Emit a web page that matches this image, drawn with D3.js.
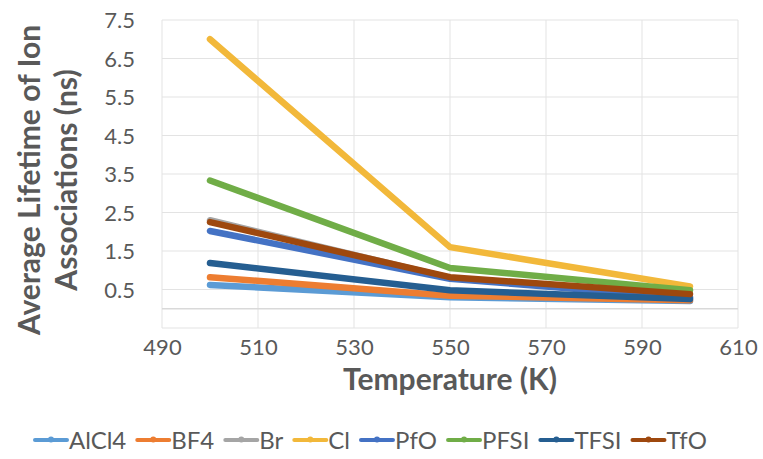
<!DOCTYPE html>
<html>
<head>
<meta charset="utf-8">
<script src="https://cdn.jsdelivr.net/npm/d3@7"></script>
<style>
body { margin: 0; background: #fff; }
text { font-family: Lato, "Open Sans", sans-serif; fill: #595959; }
</style>
</head>
<body>
<div id="chart"></div>
<script>
var width = 763, height = 459,
margin = {top: 20, right: 25, bottom: 131, left: 162}

// data
var temps = [500, 550, 600]
var names = ["AlCl4", "BF4", "Br", "Cl", "PfO", "PFSI", "TFSI", "TfO"]
var colors = ["#5B9BD5", "#ED7D31", "#A5A5A5", "#F2B83A", "#4472C4", "#70AD47", "#255E91", "#9E480E"]
var AlCl4 = [0.62, 0.30, 0.20]
var BF4 = [0.82, 0.34, 0.22]
var Br = [2.30, 0.80, 0.30]
var Cl = [7.00, 1.60, 0.58]
var PfO = [2.02, 0.78, 0.28]
var PFSI = [3.33, 1.06, 0.48]
var TFSI = [1.19, 0.48, 0.25]
var TfO = [2.25, 0.82, 0.38]
var yTicks = [0.5, 1.5, 2.5, 3.5, 4.5, 5.5, 6.5, 7.5]
var xTicks = [490, 510, 530, 550, 570, 590, 610]

var seriesVals = [AlCl4, BF4, Br, Cl, PfO, PFSI, TFSI, TfO]
var series = names.map(function(n, i) { return {name: n, color: colors[i], values: seriesVals[i]} })

var svg = d3.select("#chart").append("svg")
	.attr("width", width)
	.attr("height", height)

var x = d3.scaleLinear().domain([490, 610]).range([margin.left, width - margin.right])
var y = d3.scaleLinear().domain([-0.5, 7.5]).range([height - margin.bottom, margin.top])

// gridlines
svg.append("g").selectAll("line")
	.data(xTicks)
	.enter().append("line")
	.attr("x1", function(d) { return x(d) }).attr("x2", function(d) { return x(d) })
	.attr("y1", y(7.5)).attr("y2", y(-0.5))
	.attr("stroke", "#e3e3e3").attr("stroke-width", 1)

svg.append("g").selectAll("line")
	.data(yTicks.concat([-0.5]))
	.enter().append("line")
	.attr("x1", x(490)).attr("x2", x(610))
	.attr("y1", function(d) { return y(d) }).attr("y2", function(d) { return y(d) })
	.attr("stroke", "#e3e3e3").attr("stroke-width", 1)

// horizontal axis crosses at 0
svg.append("line")
	.attr("x1", x(490)).attr("x2", x(610))
	.attr("y1", y(0)).attr("y2", y(0))
	.attr("stroke", "#d9d9d9").attr("stroke-width", 1.5)

// axes
var yAxis = svg.append("g")
	.attr("transform", "translate(" + (margin.left - 27) + ",0)")
	.call(d3.axisLeft(y).tickValues(yTicks).tickSize(0).tickFormat(d3.format(".1f")))
yAxis.select(".domain").remove()
yAxis.selectAll("text").style("font-size", "22px").attr("fill", "#595959").attr("x", 0).attr("dy", "0.36em")

var xAxis = svg.append("g")
	.attr("transform", "translate(0," + (y(-0.5) + 8) + ")")
	.call(d3.axisBottom(x).tickValues(xTicks).tickSize(0).tickFormat(d3.format("d")))
xAxis.select(".domain").remove()
xAxis.selectAll("text").style("font-size", "22px").attr("fill", "#595959")

// lines
var line = d3.line()
	.x(function(d, i) { return x(temps[i]) })
	.y(function(d) { return y(d) })

svg.append("g").selectAll("path")
	.data(series)
	.enter().append("path")
	.attr("d", function(d) { return line(d.values) })
	.attr("fill", "none")
	.attr("stroke", function(d) { return d.color })
	.attr("stroke-width", 6.5)
	.attr("stroke-linecap", "round")
	.attr("stroke-linejoin", "round")

// axis titles
svg.append("text")
	.attr("x", 450)
	.attr("y", 390)
	.attr("text-anchor", "middle")
	.style("font-size", "30px").style("font-weight", "bold")
	.text("Temperature (K)")

var yt = svg.append("text")
	.attr("transform", "translate(40,180) rotate(-90)")
	.attr("text-anchor", "middle")
	.style("font-size", "30px").style("font-weight", "bold")
yt.append("tspan").attr("x", 0).attr("dy", 0).text("Average Lifetime of Ion")
yt.append("tspan").attr("x", 0).attr("dy", 37).text("Associations (ns)")

// legend
var legend = svg.append("g").attr("transform", "translate(0,440)")
var lx = 34
series.forEach(function(s) {
	var g = legend.append("g").attr("transform", "translate(" + lx + ",0)")
	g.append("line").attr("x1", 1).attr("x2", 33).attr("y1", 0).attr("y2", 0)
		.attr("stroke", s.color).attr("stroke-width", 4).attr("stroke-linecap", "round")
	g.append("circle").attr("cx", 17).attr("cy", -0.5).attr("r", 3).attr("fill", s.color)
	var t = g.append("text").attr("x", 35).attr("y", 8.5).style("font-size", "24px").text(s.name)
	lx += 35 + t.node().getComputedTextLength() + 10
})
</script>
</body>
</html>
